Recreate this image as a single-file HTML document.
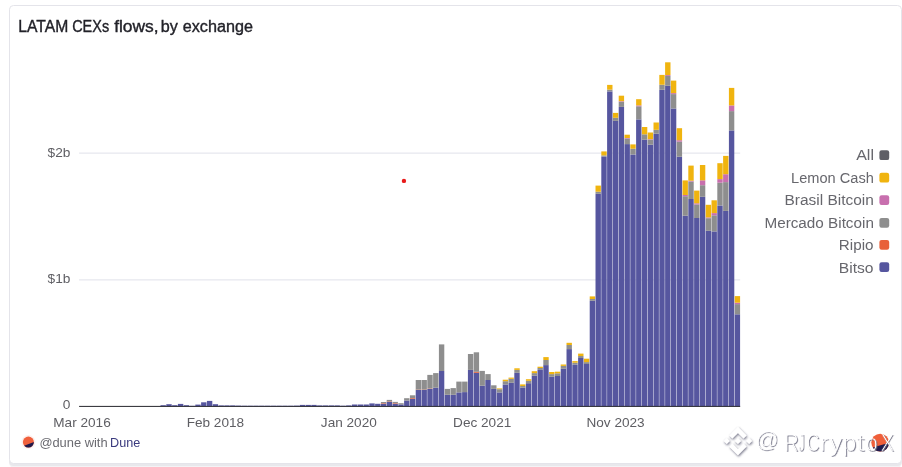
<!DOCTYPE html>
<html><head><meta charset="utf-8"><title>LATAM CEXs flows, by exchange</title>
<style>
html,body{margin:0;padding:0;background:#fff;}
body{width:902px;height:467px;overflow:hidden;position:relative;font-family:"Liberation Sans",sans-serif;}
.card{position:absolute;left:9px;top:5px;width:893px;height:458.8px;border:1px solid #e4e4ea;border-radius:4.5px;background:#fff;box-shadow:0 2px 0 #e8e8ec, 0 3.5px 0 #f3f3f5;box-sizing:border-box;}
svg{position:absolute;left:0;top:0;will-change:transform;}
svg text{font-family:"Liberation Sans",sans-serif;}
</style></head><body>
<div class="card"></div>
<svg width="902" height="467" viewBox="0 0 902 467">
<defs>
<filter id="ws" x="-5%" y="-5%" width="110%" height="110%"><feGaussianBlur stdDeviation="0.8"/></filter>
<filter id="ws2" x="-5%" y="-5%" width="110%" height="110%"><feGaussianBlur stdDeviation="0.45"/></filter>
<clipPath id="dc"><circle cx="28.4" cy="442.1" r="5.5"/></clipPath>
<clipPath id="dc2"><circle cx="880.2" cy="442.6" r="8.9"/></clipPath>
</defs>
<text x="18.27" y="31.6" font-size="15.8" fill="#222229" textLength="49.96" lengthAdjust="spacingAndGlyphs" stroke="#222229" stroke-width="0.36">LATAM</text>
<text x="72.17" y="31.6" font-size="15.8" fill="#222229" textLength="36.96" lengthAdjust="spacingAndGlyphs" stroke="#222229" stroke-width="0.36">CEXs</text>
<text x="114.15" y="31.6" font-size="15.8" fill="#222229" textLength="44.51" lengthAdjust="spacingAndGlyphs" stroke="#222229" stroke-width="0.36">flows,</text>
<text x="160.66" y="31.6" font-size="15.8" fill="#222229" textLength="17.07" lengthAdjust="spacingAndGlyphs" stroke="#222229" stroke-width="0.36">by</text>
<text x="182.71" y="31.6" font-size="15.8" fill="#222229" textLength="70.21" lengthAdjust="spacingAndGlyphs" stroke="#222229" stroke-width="0.36">exchange</text>
<line x1="79.1" x2="740.2" y1="153.1" y2="153.1" stroke="#e0e1ea" stroke-width="1"/>
<line x1="79.1" x2="740.2" y1="279.9" y2="279.9" stroke="#e0e1ea" stroke-width="1"/>
<text x="70.4" y="156.5" font-size="13.7" fill="#5e5e63" text-anchor="end">$2b</text>
<text x="70.4" y="283.3" font-size="13.7" fill="#5e5e63" text-anchor="end">$1b</text>
<text x="70.4" y="408.8" font-size="13.7" fill="#5e5e63" text-anchor="end">0</text>
<g>
<rect x="160.51" y="405.20" width="5.38" height="1.00" fill="#56569f"/>
<rect x="166.31" y="404.20" width="5.38" height="2.00" fill="#56569f"/>
<rect x="172.11" y="405.20" width="5.38" height="1.00" fill="#56569f"/>
<rect x="177.91" y="403.90" width="5.38" height="2.30" fill="#56569f"/>
<rect x="183.71" y="405.20" width="5.38" height="1.00" fill="#56569f"/>
<rect x="189.51" y="405.80" width="5.38" height="0.40" fill="#56569f"/>
<rect x="195.31" y="404.60" width="5.38" height="1.60" fill="#56569f"/>
<rect x="201.11" y="402.30" width="5.38" height="3.90" fill="#56569f"/>
<rect x="206.91" y="400.90" width="5.38" height="5.30" fill="#56569f"/>
<rect x="212.71" y="404.20" width="5.38" height="2.00" fill="#56569f"/>
<rect x="218.51" y="405.40" width="5.38" height="0.80" fill="#56569f"/>
<rect x="224.31" y="405.40" width="5.38" height="0.80" fill="#56569f"/>
<rect x="230.11" y="405.40" width="5.38" height="0.80" fill="#56569f"/>
<rect x="235.91" y="405.60" width="5.38" height="0.60" fill="#56569f"/>
<rect x="241.71" y="405.70" width="5.38" height="0.50" fill="#56569f"/>
<rect x="247.51" y="405.70" width="5.38" height="0.50" fill="#56569f"/>
<rect x="253.31" y="405.70" width="5.38" height="0.50" fill="#56569f"/>
<rect x="259.11" y="405.70" width="5.38" height="0.50" fill="#56569f"/>
<rect x="264.91" y="405.70" width="5.38" height="0.50" fill="#56569f"/>
<rect x="270.71" y="405.70" width="5.38" height="0.50" fill="#56569f"/>
<rect x="276.51" y="405.70" width="5.38" height="0.50" fill="#56569f"/>
<rect x="282.31" y="405.70" width="5.38" height="0.50" fill="#56569f"/>
<rect x="288.11" y="405.70" width="5.38" height="0.50" fill="#56569f"/>
<rect x="293.91" y="405.60" width="5.38" height="0.60" fill="#56569f"/>
<rect x="299.71" y="404.90" width="5.38" height="1.30" fill="#56569f"/>
<rect x="305.51" y="404.90" width="5.38" height="1.30" fill="#56569f"/>
<rect x="311.31" y="404.90" width="5.38" height="1.30" fill="#56569f"/>
<rect x="317.11" y="405.40" width="5.38" height="0.80" fill="#56569f"/>
<rect x="322.91" y="405.40" width="5.38" height="0.80" fill="#56569f"/>
<rect x="328.71" y="405.40" width="5.38" height="0.80" fill="#56569f"/>
<rect x="334.51" y="405.40" width="5.38" height="0.80" fill="#56569f"/>
<rect x="340.31" y="405.70" width="5.38" height="0.50" fill="#56569f"/>
<rect x="346.11" y="405.40" width="5.38" height="0.80" fill="#56569f"/>
<rect x="351.91" y="404.50" width="5.38" height="1.70" fill="#56569f"/>
<rect x="357.71" y="404.50" width="5.38" height="1.70" fill="#56569f"/>
<rect x="363.51" y="404.50" width="5.38" height="1.70" fill="#56569f"/>
<rect x="369.31" y="403.40" width="5.38" height="2.80" fill="#56569f"/>
<rect x="375.11" y="403.80" width="5.38" height="2.40" fill="#56569f"/>
<rect x="380.91" y="403.80" width="5.38" height="2.40" fill="#56569f"/>
<rect x="380.91" y="403.20" width="5.38" height="0.60" fill="#e8603a"/>
<rect x="380.91" y="402.00" width="5.38" height="1.20" fill="#8e8e8e"/>
<rect x="386.71" y="401.90" width="5.38" height="4.30" fill="#56569f"/>
<rect x="386.71" y="401.40" width="5.38" height="0.50" fill="#e8603a"/>
<rect x="386.71" y="399.90" width="5.38" height="1.50" fill="#8e8e8e"/>
<rect x="392.51" y="403.80" width="5.38" height="2.40" fill="#56569f"/>
<rect x="392.51" y="403.20" width="5.38" height="0.60" fill="#e8603a"/>
<rect x="392.51" y="401.90" width="5.38" height="1.30" fill="#8e8e8e"/>
<rect x="398.31" y="404.40" width="5.38" height="1.80" fill="#56569f"/>
<rect x="398.31" y="403.20" width="5.38" height="1.20" fill="#8e8e8e"/>
<rect x="404.11" y="400.60" width="5.38" height="5.60" fill="#56569f"/>
<rect x="404.11" y="398.20" width="5.38" height="2.40" fill="#8e8e8e"/>
<rect x="409.91" y="399.00" width="5.38" height="7.20" fill="#56569f"/>
<rect x="409.91" y="398.20" width="5.38" height="0.80" fill="#e8603a"/>
<rect x="409.91" y="395.30" width="5.38" height="2.90" fill="#8e8e8e"/>
<rect x="415.71" y="390.00" width="5.38" height="16.20" fill="#56569f"/>
<rect x="415.71" y="389.60" width="5.38" height="0.40" fill="#e8603a"/>
<rect x="415.71" y="380.00" width="5.38" height="9.60" fill="#8e8e8e"/>
<rect x="421.51" y="390.00" width="5.38" height="16.20" fill="#56569f"/>
<rect x="421.51" y="389.60" width="5.38" height="0.40" fill="#e8603a"/>
<rect x="421.51" y="380.00" width="5.38" height="9.60" fill="#8e8e8e"/>
<rect x="427.31" y="388.90" width="5.38" height="17.30" fill="#56569f"/>
<rect x="427.31" y="388.50" width="5.38" height="0.40" fill="#e8603a"/>
<rect x="427.31" y="374.90" width="5.38" height="13.60" fill="#8e8e8e"/>
<rect x="433.11" y="387.70" width="5.38" height="18.50" fill="#56569f"/>
<rect x="433.11" y="373.10" width="5.38" height="14.60" fill="#8e8e8e"/>
<rect x="438.91" y="371.00" width="5.38" height="35.20" fill="#56569f"/>
<rect x="438.91" y="344.40" width="5.38" height="26.60" fill="#8e8e8e"/>
<rect x="444.71" y="394.80" width="5.38" height="11.40" fill="#56569f"/>
<rect x="444.71" y="388.90" width="5.38" height="5.90" fill="#8e8e8e"/>
<rect x="450.51" y="394.80" width="5.38" height="11.40" fill="#56569f"/>
<rect x="450.51" y="388.10" width="5.38" height="6.70" fill="#8e8e8e"/>
<rect x="456.31" y="392.40" width="5.38" height="13.80" fill="#56569f"/>
<rect x="456.31" y="381.60" width="5.38" height="10.80" fill="#8e8e8e"/>
<rect x="462.11" y="392.10" width="5.38" height="14.10" fill="#56569f"/>
<rect x="462.11" y="381.60" width="5.38" height="10.50" fill="#8e8e8e"/>
<rect x="467.91" y="369.90" width="5.38" height="36.30" fill="#56569f"/>
<rect x="467.91" y="354.00" width="5.38" height="15.90" fill="#8e8e8e"/>
<rect x="473.71" y="372.80" width="5.38" height="33.40" fill="#56569f"/>
<rect x="473.71" y="371.80" width="5.38" height="1.00" fill="#e8603a"/>
<rect x="473.71" y="352.30" width="5.38" height="19.50" fill="#8e8e8e"/>
<rect x="479.51" y="385.70" width="5.38" height="20.50" fill="#56569f"/>
<rect x="479.51" y="370.90" width="5.38" height="14.80" fill="#8e8e8e"/>
<rect x="485.31" y="380.00" width="5.38" height="26.20" fill="#56569f"/>
<rect x="485.31" y="374.10" width="5.38" height="5.90" fill="#8e8e8e"/>
<rect x="491.11" y="388.90" width="5.38" height="17.30" fill="#56569f"/>
<rect x="491.11" y="385.30" width="5.38" height="3.60" fill="#8e8e8e"/>
<rect x="496.91" y="392.40" width="5.38" height="13.80" fill="#56569f"/>
<rect x="496.91" y="389.20" width="5.38" height="3.20" fill="#8e8e8e"/>
<rect x="496.91" y="388.40" width="5.38" height="0.80" fill="#f0b40f"/>
<rect x="502.71" y="384.50" width="5.38" height="21.70" fill="#56569f"/>
<rect x="502.71" y="381.20" width="5.38" height="3.30" fill="#8e8e8e"/>
<rect x="502.71" y="379.70" width="5.38" height="1.50" fill="#f0b40f"/>
<rect x="508.51" y="382.80" width="5.38" height="23.40" fill="#56569f"/>
<rect x="508.51" y="378.80" width="5.38" height="4.00" fill="#8e8e8e"/>
<rect x="508.51" y="377.60" width="5.38" height="1.20" fill="#f0b40f"/>
<rect x="514.31" y="372.80" width="5.38" height="33.40" fill="#56569f"/>
<rect x="514.31" y="369.90" width="5.38" height="2.90" fill="#8e8e8e"/>
<rect x="514.31" y="368.30" width="5.38" height="1.60" fill="#f0b40f"/>
<rect x="520.11" y="387.70" width="5.38" height="18.50" fill="#56569f"/>
<rect x="520.11" y="386.00" width="5.38" height="1.70" fill="#8e8e8e"/>
<rect x="520.11" y="384.40" width="5.38" height="1.60" fill="#f0b40f"/>
<rect x="525.91" y="383.20" width="5.38" height="23.00" fill="#56569f"/>
<rect x="525.91" y="380.80" width="5.38" height="2.40" fill="#8e8e8e"/>
<rect x="525.91" y="379.20" width="5.38" height="1.60" fill="#f0b40f"/>
<rect x="531.71" y="375.70" width="5.38" height="30.50" fill="#56569f"/>
<rect x="531.71" y="373.10" width="5.38" height="2.60" fill="#8e8e8e"/>
<rect x="531.71" y="371.20" width="5.38" height="1.90" fill="#f0b40f"/>
<rect x="537.51" y="369.90" width="5.38" height="36.30" fill="#56569f"/>
<rect x="537.51" y="368.00" width="5.38" height="1.90" fill="#8e8e8e"/>
<rect x="537.51" y="366.70" width="5.38" height="1.30" fill="#f0b40f"/>
<rect x="543.31" y="365.10" width="5.38" height="41.10" fill="#56569f"/>
<rect x="543.31" y="360.00" width="5.38" height="5.10" fill="#8e8e8e"/>
<rect x="543.31" y="357.10" width="5.38" height="2.90" fill="#f0b40f"/>
<rect x="549.11" y="376.80" width="5.38" height="29.40" fill="#56569f"/>
<rect x="549.11" y="374.10" width="5.38" height="2.70" fill="#8e8e8e"/>
<rect x="549.11" y="372.00" width="5.38" height="2.10" fill="#f0b40f"/>
<rect x="554.91" y="376.00" width="5.38" height="30.20" fill="#56569f"/>
<rect x="554.91" y="373.30" width="5.38" height="2.70" fill="#8e8e8e"/>
<rect x="554.91" y="371.70" width="5.38" height="1.60" fill="#f0b40f"/>
<rect x="560.71" y="368.80" width="5.38" height="37.40" fill="#56569f"/>
<rect x="560.71" y="365.90" width="5.38" height="2.90" fill="#8e8e8e"/>
<rect x="560.71" y="364.50" width="5.38" height="1.40" fill="#f0b40f"/>
<rect x="566.51" y="349.10" width="5.38" height="57.10" fill="#56569f"/>
<rect x="566.51" y="345.00" width="5.38" height="4.10" fill="#8e8e8e"/>
<rect x="566.51" y="342.80" width="5.38" height="2.20" fill="#f0b40f"/>
<rect x="572.31" y="364.50" width="5.38" height="41.70" fill="#56569f"/>
<rect x="572.31" y="362.70" width="5.38" height="1.80" fill="#8e8e8e"/>
<rect x="572.31" y="361.10" width="5.38" height="1.60" fill="#f0b40f"/>
<rect x="578.11" y="358.00" width="5.38" height="48.20" fill="#56569f"/>
<rect x="578.11" y="356.00" width="5.38" height="2.00" fill="#8e8e8e"/>
<rect x="578.11" y="353.60" width="5.38" height="2.40" fill="#f0b40f"/>
<rect x="583.91" y="364.00" width="5.38" height="42.20" fill="#56569f"/>
<rect x="583.91" y="362.10" width="5.38" height="1.90" fill="#8e8e8e"/>
<rect x="583.91" y="358.70" width="5.38" height="3.40" fill="#f0b40f"/>
<rect x="589.71" y="300.80" width="5.38" height="105.40" fill="#56569f"/>
<rect x="589.71" y="299.00" width="5.38" height="1.80" fill="#8e8e8e"/>
<rect x="589.71" y="296.40" width="5.38" height="2.60" fill="#f0b40f"/>
<rect x="595.51" y="193.80" width="5.38" height="212.40" fill="#56569f"/>
<rect x="595.51" y="191.70" width="5.38" height="2.10" fill="#8e8e8e"/>
<rect x="595.51" y="185.60" width="5.38" height="6.10" fill="#f0b40f"/>
<rect x="601.31" y="156.50" width="5.38" height="249.70" fill="#56569f"/>
<rect x="601.31" y="155.40" width="5.38" height="1.10" fill="#8e8e8e"/>
<rect x="601.31" y="151.40" width="5.38" height="4.00" fill="#f0b40f"/>
<rect x="607.11" y="91.40" width="5.38" height="314.80" fill="#56569f"/>
<rect x="607.11" y="89.60" width="5.38" height="1.80" fill="#8e8e8e"/>
<rect x="607.11" y="84.90" width="5.38" height="4.70" fill="#f0b40f"/>
<rect x="612.91" y="120.90" width="5.38" height="285.30" fill="#56569f"/>
<rect x="612.91" y="117.80" width="5.38" height="3.10" fill="#8e8e8e"/>
<rect x="612.91" y="112.90" width="5.38" height="4.90" fill="#f0b40f"/>
<rect x="618.71" y="106.90" width="5.38" height="299.30" fill="#56569f"/>
<rect x="618.71" y="101.80" width="5.38" height="5.10" fill="#8e8e8e"/>
<rect x="618.71" y="101.20" width="5.38" height="0.60" fill="#c86fae"/>
<rect x="618.71" y="95.70" width="5.38" height="5.50" fill="#f0b40f"/>
<rect x="624.51" y="144.10" width="5.38" height="262.10" fill="#56569f"/>
<rect x="624.51" y="138.60" width="5.38" height="5.50" fill="#8e8e8e"/>
<rect x="624.51" y="138.00" width="5.38" height="0.60" fill="#c86fae"/>
<rect x="624.51" y="134.70" width="5.38" height="3.30" fill="#f0b40f"/>
<rect x="630.31" y="154.50" width="5.38" height="251.70" fill="#56569f"/>
<rect x="630.31" y="148.70" width="5.38" height="5.80" fill="#8e8e8e"/>
<rect x="630.31" y="144.40" width="5.38" height="4.30" fill="#f0b40f"/>
<rect x="636.11" y="119.40" width="5.38" height="286.80" fill="#56569f"/>
<rect x="636.11" y="106.30" width="5.38" height="13.10" fill="#8e8e8e"/>
<rect x="636.11" y="105.40" width="5.38" height="0.90" fill="#c86fae"/>
<rect x="636.11" y="99.20" width="5.38" height="6.20" fill="#f0b40f"/>
<rect x="641.91" y="139.80" width="5.38" height="266.40" fill="#56569f"/>
<rect x="641.91" y="134.30" width="5.38" height="5.50" fill="#8e8e8e"/>
<rect x="641.91" y="127.00" width="5.38" height="7.30" fill="#f0b40f"/>
<rect x="647.71" y="144.70" width="5.38" height="261.50" fill="#56569f"/>
<rect x="647.71" y="139.80" width="5.38" height="4.90" fill="#8e8e8e"/>
<rect x="647.71" y="139.20" width="5.38" height="0.60" fill="#c86fae"/>
<rect x="647.71" y="132.50" width="5.38" height="6.70" fill="#f0b40f"/>
<rect x="653.51" y="133.70" width="5.38" height="272.50" fill="#56569f"/>
<rect x="653.51" y="129.80" width="5.38" height="3.90" fill="#8e8e8e"/>
<rect x="653.51" y="122.50" width="5.38" height="7.30" fill="#f0b40f"/>
<rect x="659.31" y="89.80" width="5.38" height="316.40" fill="#56569f"/>
<rect x="659.31" y="84.70" width="5.38" height="5.10" fill="#8e8e8e"/>
<rect x="659.31" y="74.90" width="5.38" height="9.80" fill="#f0b40f"/>
<rect x="665.11" y="85.80" width="5.38" height="320.40" fill="#56569f"/>
<rect x="665.11" y="76.00" width="5.38" height="9.80" fill="#8e8e8e"/>
<rect x="665.11" y="75.10" width="5.38" height="0.90" fill="#c86fae"/>
<rect x="665.11" y="62.30" width="5.38" height="12.80" fill="#f0b40f"/>
<rect x="670.91" y="108.50" width="5.38" height="297.70" fill="#56569f"/>
<rect x="670.91" y="94.10" width="5.38" height="14.40" fill="#8e8e8e"/>
<rect x="670.91" y="93.10" width="5.38" height="1.00" fill="#c86fae"/>
<rect x="670.91" y="80.60" width="5.38" height="12.50" fill="#f0b40f"/>
<rect x="676.71" y="156.70" width="5.38" height="249.50" fill="#56569f"/>
<rect x="676.71" y="141.70" width="5.38" height="15.00" fill="#8e8e8e"/>
<rect x="676.71" y="140.20" width="5.38" height="1.50" fill="#c86fae"/>
<rect x="676.71" y="128.20" width="5.38" height="12.00" fill="#f0b40f"/>
<rect x="682.51" y="215.70" width="5.38" height="190.50" fill="#56569f"/>
<rect x="682.51" y="196.20" width="5.38" height="19.50" fill="#8e8e8e"/>
<rect x="682.51" y="195.00" width="5.38" height="1.20" fill="#c86fae"/>
<rect x="682.51" y="180.40" width="5.38" height="14.60" fill="#f0b40f"/>
<rect x="688.31" y="199.00" width="5.38" height="207.20" fill="#56569f"/>
<rect x="688.31" y="181.60" width="5.38" height="17.40" fill="#8e8e8e"/>
<rect x="688.31" y="180.70" width="5.38" height="0.90" fill="#c86fae"/>
<rect x="688.31" y="165.60" width="5.38" height="15.10" fill="#f0b40f"/>
<rect x="694.11" y="218.00" width="5.38" height="188.20" fill="#56569f"/>
<rect x="694.11" y="204.50" width="5.38" height="13.50" fill="#8e8e8e"/>
<rect x="694.11" y="203.30" width="5.38" height="1.20" fill="#c86fae"/>
<rect x="694.11" y="190.60" width="5.38" height="12.70" fill="#f0b40f"/>
<rect x="699.91" y="196.80" width="5.38" height="209.40" fill="#56569f"/>
<rect x="699.91" y="185.20" width="5.38" height="11.60" fill="#8e8e8e"/>
<rect x="699.91" y="180.30" width="5.38" height="4.90" fill="#c86fae"/>
<rect x="699.91" y="165.00" width="5.38" height="15.30" fill="#f0b40f"/>
<rect x="705.71" y="230.80" width="5.38" height="175.40" fill="#56569f"/>
<rect x="705.71" y="218.20" width="5.38" height="12.60" fill="#8e8e8e"/>
<rect x="705.71" y="217.40" width="5.38" height="0.80" fill="#c86fae"/>
<rect x="705.71" y="204.80" width="5.38" height="12.60" fill="#f0b40f"/>
<rect x="711.51" y="231.40" width="5.38" height="174.80" fill="#56569f"/>
<rect x="711.51" y="215.30" width="5.38" height="16.10" fill="#8e8e8e"/>
<rect x="711.51" y="213.10" width="5.38" height="2.20" fill="#c86fae"/>
<rect x="711.51" y="200.30" width="5.38" height="12.80" fill="#f0b40f"/>
<rect x="717.31" y="205.50" width="5.38" height="200.70" fill="#56569f"/>
<rect x="717.31" y="182.70" width="5.38" height="22.80" fill="#8e8e8e"/>
<rect x="717.31" y="179.10" width="5.38" height="3.60" fill="#c86fae"/>
<rect x="717.31" y="163.20" width="5.38" height="15.90" fill="#f0b40f"/>
<rect x="723.11" y="210.90" width="5.38" height="195.30" fill="#56569f"/>
<rect x="723.11" y="182.10" width="5.38" height="28.80" fill="#8e8e8e"/>
<rect x="723.11" y="174.20" width="5.38" height="7.90" fill="#c86fae"/>
<rect x="723.11" y="155.90" width="5.38" height="18.30" fill="#f0b40f"/>
<rect x="728.91" y="130.40" width="5.38" height="275.80" fill="#56569f"/>
<rect x="728.91" y="111.10" width="5.38" height="19.30" fill="#8e8e8e"/>
<rect x="728.91" y="105.40" width="5.38" height="5.70" fill="#c86fae"/>
<rect x="728.91" y="87.90" width="5.38" height="17.50" fill="#f0b40f"/>
<rect x="734.71" y="314.30" width="5.38" height="91.90" fill="#56569f"/>
<rect x="734.71" y="304.10" width="5.38" height="10.20" fill="#8e8e8e"/>
<rect x="734.71" y="302.70" width="5.38" height="1.40" fill="#c86fae"/>
<rect x="734.71" y="296.10" width="5.38" height="6.60" fill="#f0b40f"/>
</g>
<line x1="79.1" x2="740.2" y1="406.4" y2="406.4" stroke="#26262c" stroke-width="1"/>
<text x="82.0" y="426.8" font-size="13.6" fill="#5e5e63" text-anchor="middle">Mar 2016</text>
<text x="215.4" y="426.8" font-size="13.6" fill="#5e5e63" text-anchor="middle">Feb 2018</text>
<text x="348.8" y="426.8" font-size="13.6" fill="#5e5e63" text-anchor="middle">Jan 2020</text>
<text x="482.2" y="426.8" font-size="13.6" fill="#5e5e63" text-anchor="middle">Dec 2021</text>
<text x="615.6" y="426.8" font-size="13.6" fill="#5e5e63" text-anchor="middle">Nov 2023</text>
<text x="856.17" y="159.6" font-size="15.2" fill="#67676d" textLength="17.80" lengthAdjust="spacingAndGlyphs">All</text>
<rect x="879.4" y="150.3" width="9.8" height="9.8" rx="2.2" fill="#5f5f66"/>
<text x="791.10" y="182.8" font-size="15.2" fill="#67676d" textLength="82.74" lengthAdjust="spacingAndGlyphs">Lemon Cash</text>
<rect x="879.4" y="172.8" width="9.8" height="9.8" rx="2.2" fill="#f0b40f"/>
<text x="784.53" y="205.4" font-size="15.2" fill="#67676d" textLength="89.37" lengthAdjust="spacingAndGlyphs">Brasil Bitcoin</text>
<rect x="879.4" y="195.2" width="9.8" height="9.8" rx="2.2" fill="#c86fae"/>
<text x="764.45" y="227.6" font-size="15.2" fill="#67676d" textLength="109.44" lengthAdjust="spacingAndGlyphs">Mercado Bitcoin</text>
<rect x="879.4" y="217.9" width="9.8" height="9.8" rx="2.2" fill="#8e8e8e"/>
<text x="838.85" y="249.6" font-size="15.2" fill="#67676d" textLength="34.69" lengthAdjust="spacingAndGlyphs">Ripio</text>
<rect x="879.4" y="239.9" width="9.8" height="9.8" rx="2.2" fill="#e8603a"/>
<text x="838.82" y="272.6" font-size="15.2" fill="#67676d" textLength="34.74" lengthAdjust="spacingAndGlyphs">Bitso</text>
<rect x="879.4" y="262.2" width="9.8" height="9.8" rx="2.2" fill="#56569f"/>
<circle cx="403.95" cy="180.9" r="2.2" fill="#e81a1a"/>
<!-- dune logo -->
<circle cx="28.4" cy="442.1" r="7" fill="#fdf1ee"/>
<g clip-path="url(#dc)"><rect x="22" y="436" width="14" height="14" fill="#f0603c"/><polygon points="22,446.5 35,441.6 35,450 22,450" fill="#1f1a4c"/></g>
<text x="39.39" y="447.2" font-size="13" fill="#6b6b71" textLength="68.25" lengthAdjust="spacingAndGlyphs">@dune with</text>
<text x="110.06" y="447.2" font-size="13" fill="#3a3a7e" textLength="30.20" lengthAdjust="spacingAndGlyphs">Dune</text>
<!-- watermark -->
<g clip-path="url(#dc2)"><rect x="869" y="431" width="24" height="24" fill="#ef5f3a"/><polygon points="869,448.7 892,441.8 892,455 869,455" fill="#1f1a4c"/></g>
<mask id="wm" maskUnits="userSpaceOnUse" x="715" y="420" width="187" height="47">
<g fill="#fff">
<g transform="translate(723.5,426.6) scale(0.2283)">
<path d="M38.73,53.2 63.3,28.63 87.88,53.21 102.17,38.92 63.3,0 24.44,38.9z"/>
<path d="M0,63.31 14.29,49.02 28.58,63.31 14.29,77.6z"/>
<path d="M38.73,73.41 63.3,97.98 87.88,73.4 102.18,87.68 63.3,126.61 24.44,87.75z"/>
<path d="M98.03,63.31 112.32,49.02 126.61,63.31 112.32,77.6z"/>
<path d="M77.8,63.3 63.3,48.8 48.81,63.28 63.3,77.8z"/>
</g>
</g>
</mask>
<mask id="wt" maskUnits="userSpaceOnUse" x="715" y="420" width="187" height="47">
<g fill="#fff" stroke="#000" stroke-width="0.6">
<text transform="translate(784.26,450.5) scale(0.856,1)" font-size="23.4">R</text>
<text transform="translate(798.09,450.5) scale(0.552,1)" font-size="23.4">J</text>
<text transform="translate(806.49,450.5) scale(0.763,1)" font-size="23.4">C</text>
<text transform="translate(819.70,450.5) scale(1.162,1)" font-size="23.4">r</text>
<text transform="translate(829.55,450.5) scale(1.103,1)" font-size="23.4">y</text>
<text transform="translate(842.49,450.5) scale(1.073,1)" font-size="23.4">p</text>
<text transform="translate(856.67,450.5) scale(1.235,1)" font-size="23.4">t</text>
<text transform="translate(865.79,450.5) scale(0.924,1)" font-size="23.4">o</text>
<text transform="translate(880.44,450.5) scale(0.890,1)" font-size="23.4">X</text>
<text transform="translate(755.59,447.4) scale(1.043,1)" font-size="22">@</text>
</g>
</mask>
<g filter="url(#ws)"><rect x="715" y="420" width="187" height="47" fill="#5c5c72" opacity="0.8" mask="url(#wm)" transform="translate(0.7,1.2)"/></g>
<g filter="url(#ws2)"><rect x="715" y="420" width="187" height="47" fill="#5c5c72" opacity="0.78" mask="url(#wt)" transform="translate(0.9,1.0)"/></g>
<rect x="715" y="420" width="187" height="47" fill="#fff" mask="url(#wm)"/>
<rect x="715" y="420" width="187" height="47" fill="#fff" mask="url(#wt)"/>
</svg>
</body></html>
